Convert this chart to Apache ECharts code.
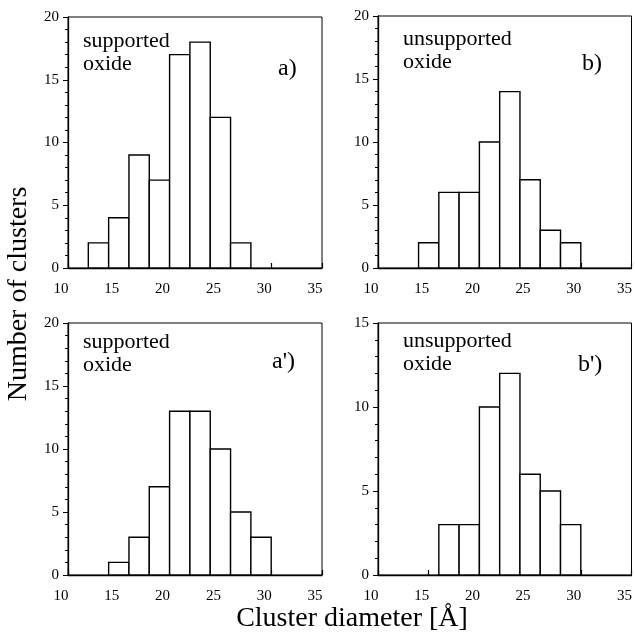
<!DOCTYPE html>
<html>
<head>
<meta charset="utf-8">
<script src="https://cdn.jsdelivr.net/npm/echarts@6/dist/echarts.min.js"></script>
<style>
  html, body { margin: 0; padding: 0; background: #fff; }
  #chart { width: 635px; height: 635px; }
</style>
</head>
<body>
<div id="chart"></div>
<script>
// bin width in Angstrom
var binWidth = 2;

// a) supported oxide
var binStartA = [12, 14, 16, 18, 20, 22, 24, 26];
var countsA = [2, 4, 9, 7, 17, 18, 12, 2];
// b) unsupported oxide
var binStartB = [14, 16, 18, 20, 22, 24, 26, 28];
var countsB = [2, 6, 6, 10, 14, 7, 3, 2];
// a') supported oxide
var binStartA2 = [14, 16, 18, 20, 22, 24, 26, 28];
var countsA2 = [1, 3, 7, 13, 13, 10, 5, 3];
// b') unsupported oxide
var binStartB2 = [16, 18, 20, 22, 24, 26, 28];
var countsB2 = [3, 3, 10, 12, 6, 5, 3];

var yMax = [20, 20, 20, 15];
var panelNames = ['a)', 'b)', "a')", "b')"];
var panelTexts = ['supported\noxide', 'unsupported\noxide', 'supported\noxide', 'unsupported\noxide'];

var font = '"Liberation Serif", "DejaVu Serif", serif';

var myChart = echarts.init(document.getElementById('chart'));

function toBins(starts, counts) {
  var res = [];
  for (var i = 0; i < starts.length; i++) {
    res.push([starts[i], starts[i] + binWidth, counts[i]]);
  }
  return res;
}

var binsAll = [
  toBins(binStartA, countsA),
  toBins(binStartB, countsB),
  toBins(binStartA2, countsA2),
  toBins(binStartB2, countsB2)
];

var grids = [
  { left: 68, top: 17, width: 254, height: 251 },
  { left: 378, top: 16, width: 254, height: 252 },
  { left: 68, top: 323, width: 254, height: 252 },
  { left: 378, top: 323, width: 254, height: 252 }
];
// where the panel texts sit, relative to the grid corner
var textPos = [[15, 13], [25, 12], [15, 8], [25, 7]];
var namePos = [[210, 40], [204, 36], [204, 27], [200, 30]];

var xAxes = [], yAxes = [], series = [], graphics = [];
for (var k = 0; k < 4; k++) {
  grids[k].show = true;
  grids[k].borderColor = '#000';
  grids[k].borderWidth = 1;
  grids[k].backgroundColor = 'transparent';
  xAxes.push({
    type: 'value',
    gridIndex: k,
    min: 10,
    max: 35,
    interval: 5,
    axisLine: { lineStyle: { color: '#000', width: 1.3 } },
    axisTick: { inside: true, length: 5, lineStyle: { color: '#000', width: 1.2 } },
    axisLabel: { color: '#000', fontFamily: font, fontSize: 15, margin: 14, padding: [0, 14, 0, 0] },
    splitLine: { show: false }
  });
  yAxes.push({
    type: 'value',
    gridIndex: k,
    min: 0,
    max: yMax[k],
    interval: 5,
    axisLine: { show: true, lineStyle: { color: '#000', width: 1.3 } },
    axisTick: { show: true, length: 5, lineStyle: { color: '#000' } },
    minorTick: { show: true, splitNumber: 5, length: 3, lineStyle: { color: '#000' } },
    axisLabel: { color: '#000', fontFamily: font, fontSize: 15, margin: 9 },
    splitLine: { show: false }
  });
  series.push({
    type: 'custom',
    xAxisIndex: k,
    yAxisIndex: k,
    data: binsAll[k],
    renderItem: function (params, api) {
      var p0 = api.coord([api.value(0), api.value(2)]);
      var p1 = api.coord([api.value(1), 0]);
      return {
        type: 'rect',
        shape: { x: p0[0], y: p0[1], width: p1[0] - p0[0], height: p1[1] - p0[1] },
        style: { fill: '#fff', stroke: '#000', lineWidth: 1.4 }
      };
    }
  });
  // panel text
  graphics.push({
    type: 'text',
    left: grids[k].left + textPos[k][0],
    top: grids[k].top + textPos[k][1],
    style: { text: panelTexts[k], font: '22px ' + font, fill: '#000', lineHeight: 23 }
  });
  graphics.push({
    type: 'text',
    left: grids[k].left + namePos[k][0],
    top: grids[k].top + namePos[k][1],
    style: { text: panelNames[k], font: '24px ' + font, fill: '#000' }
  });
}

graphics.push({
  type: 'text',
  x: 19,
  y: 294,
  rotation: Math.PI / 2,
  style: { text: 'Number of clusters', font: '28px ' + font, fill: '#000', align: 'center', verticalAlign: 'middle' }
});
graphics.push({
  type: 'text',
  x: 352,
  y: 619,
  style: { text: 'Cluster diameter [Å]', font: '28px ' + font, fill: '#000', align: 'center', verticalAlign: 'middle' }
});

var option = {
  animation: false,
  backgroundColor: '#fff',
  grid: grids,
  xAxis: xAxes,
  yAxis: yAxes,
  series: series,
  graphic: graphics
};
myChart.setOption(option);
</script>
</body>
</html>
